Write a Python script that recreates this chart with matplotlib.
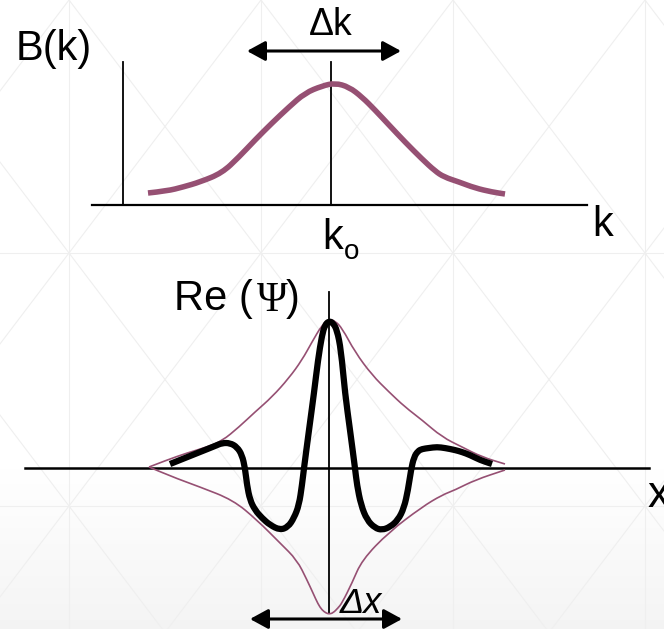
import numpy as np
import matplotlib.pyplot as plt
from matplotlib.path import Path
from matplotlib.patches import PathPatch

plt.rcParams['font.family'] = ['Liberation Sans', 'DejaVu Sans']

# ---- traced data (diagram pixel units, y grows downward) ----
# top panel: amplitude distribution B(k)
bk_x = [148, 167, 183, 200, 222, 239, 255, 272, 289, 305, 322, 335,
        349, 362, 375, 389, 405, 422, 435, 444, 459, 475, 492, 505]
bk_y = [193, 191, 187, 182, 173, 157, 140, 123, 107, 93, 86, 83,
        87, 97, 110, 125, 142, 159, 171, 177, 182, 188, 192, 194]

# bottom panel: envelope (upper / lower) and Re(psi)
env_up_x = [149, 167, 187, 207, 222, 239, 255, 272, 289, 302, 312, 322,
            329, 335, 342, 355, 372, 389, 405, 422, 442, 462, 482, 505]
env_up_y = [467, 460, 453, 447, 441, 427, 412, 397, 378, 360, 342, 325,
            319, 321, 328, 352, 375, 392, 407, 420, 437, 447, 457, 464]
env_lo_x = [149, 170, 200, 233, 257, 280, 297, 307, 313, 318, 322, 326,
            329, 333, 338, 342, 352, 362, 389, 422, 442, 455, 475, 505]
env_lo_y = [467, 476, 487, 500, 520, 543, 560, 580, 593, 604, 610, 613,
            614, 613, 608, 603, 583, 560, 532, 507, 495, 490, 480, 470]

re_x = [170, 185, 200, 215, 222, 230, 237, 242, 245, 247, 250, 255, 262,
        270, 280, 288, 294, 299, 302, 304, 309, 314, 318, 322, 325, 329,
        333, 337, 341, 345, 350, 355, 357, 361, 367, 375, 382, 390, 398,
        404, 408, 411, 414, 418, 422, 429, 437, 445, 455, 462, 470, 480, 492]
re_y = [464, 458, 452, 446, 443, 443, 447, 455, 468, 485, 500, 510, 518,
        525, 530, 527, 518, 505, 485, 468, 430, 393, 360, 335, 325, 321,
        323, 330, 350, 393, 430, 468, 485, 505, 520, 528, 530, 527, 520,
        508, 490, 470, 457, 451, 449, 448, 447, 448, 450, 452, 455, 460, 464]

PURPLE = '#965073'
W, H = 664, 629


def smooth_curve(ax, xs, ys, **kw):
    # quadratic bezier through the midpoints of the traced polyline
    pts = np.column_stack([xs, ys]).astype(float)
    verts, codes = [pts[0]], [Path.MOVETO]
    for i in range(1, len(pts) - 1):
        verts += [pts[i], (pts[i] + pts[i + 1]) / 2]
        codes += [Path.CURVE3, Path.CURVE3]
    verts.append(pts[-1])
    codes.append(Path.LINETO)
    ax.add_patch(PathPatch(Path(verts, codes), fill=False, **kw))


fig = plt.figure(figsize=(W / 100, H / 100), dpi=100)
ax = fig.add_axes([0, 0, 1, 1])
ax.set_xlim(0, W)
ax.set_ylim(H, 0)
ax.axis('off')

# background: white fading to light grey at the bottom
rows = np.linspace(0, H, 200)
shade = np.where(rows < 455, 1.0, 1.0 - 0.045 * (rows - 455) / (H - 455))
ax.imshow(np.repeat(shade[:, None], 2, axis=1), cmap='gray', vmin=0, vmax=1,
          extent=[0, W, H, 0], aspect='auto', zorder=0)

# faint triangular lattice behind everything
grid_kw = dict(color='#efefef', lw=0.8, zorder=1)
dx, dy = 192, 253
for x0 in np.arange(69 - 4 * dx, W + 4 * dx, dx):
    ax.plot([x0, x0 + dx * H / dy], [0, H], **grid_kw)
    ax.plot([x0, x0 - dx * H / dy], [0, H], **grid_kw)
    ax.axvline(x0, **grid_kw)
for y0 in (dy, 2 * dy):
    ax.axhline(y0, **grid_kw)

# ---- top panel ----
ax.plot([92, 587], [205, 205], color='black', lw=1.6, zorder=3)
ax.plot([123, 123], [62, 205], color='black', lw=1.3, zorder=3)
ax.plot([331, 331], [62, 205], color='black', lw=1.3, zorder=3)
smooth_curve(ax, bk_x, bk_y, edgecolor=PURPLE, lw=4, joinstyle='round',
             capstyle='butt', zorder=4)

ax.text(16, 60, 'B(k)', fontsize=30, ha='left', va='baseline')
ax.text(331, 35, '\u0394k', fontsize=27, ha='center', va='baseline')
ax.text(592, 236, 'k', fontsize=30, ha='left', va='baseline')
ax.text(322, 249, 'k', fontsize=30, ha='left', va='baseline')
ax.text(344, 259, 'o', fontsize=20, ha='left', va='baseline')

arrow = dict(arrowstyle='<|-|>,head_length=0.55,head_width=0.3',
             mutation_scale=20, lw=2.2, color='black', shrinkA=0, shrinkB=0)
ax.annotate('', xy=(401, 51), xytext=(247, 51), arrowprops=arrow, zorder=5)

# ---- bottom panel ----
ax.plot([25, 649], [468, 468], color='black', lw=1.8, zorder=3)
ax.plot([329, 329], [292, 613], color='black', lw=1.3, zorder=3)
smooth_curve(ax, env_up_x, env_up_y, edgecolor=PURPLE, lw=1.2, zorder=4)
smooth_curve(ax, env_lo_x, env_lo_y, edgecolor=PURPLE, lw=1.2, zorder=4)
smooth_curve(ax, re_x, re_y, edgecolor='black', lw=4.5, joinstyle='round',
             capstyle='butt', zorder=5)

ax.text(174, 310, 'Re (', fontsize=30, ha='left', va='baseline')
ax.text(272, 311, '\u03a8', fontsize=30, ha='center', va='baseline',
        family='Liberation Serif')
ax.text(286, 310, ')', fontsize=30, ha='left', va='baseline')
ax.text(647, 507, 'x', fontsize=32, ha='left', va='baseline')
ax.text(340, 613, '\u0394x', fontsize=26, style='italic', ha='left',
        va='baseline')
ax.annotate('', xy=(402, 619), xytext=(250, 619), arrowprops=arrow, zorder=5)

fig.savefig('out.png', dpi=100)
